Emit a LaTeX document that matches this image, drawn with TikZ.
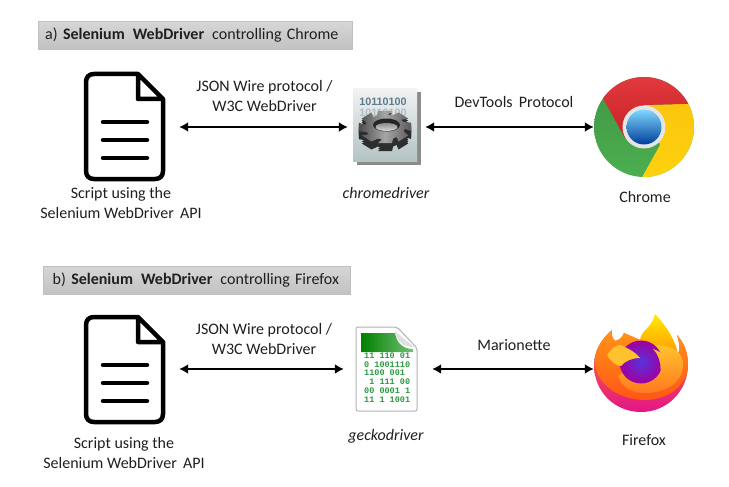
\documentclass[tikz,border=0pt]{standalone}
\usepackage{fontspec}
\setmainfont{Carlito}
\newfontfamily\bitsfont{Liberation Mono}
\newfontfamily\slatefont{Liberation Sans}
\usepackage{tikz}
\usetikzlibrary{arrows.meta}

\definecolor{inkgrey}{HTML}{1F1F1F}
\definecolor{bitgreen}{HTML}{2C9A40}
\definecolor{bitslate}{HTML}{5E7C8C}
\definecolor{chromered}{HTML}{E0262B}
\definecolor{chromegreen}{HTML}{4CAF50}
\definecolor{chromeyellow}{HTML}{FCD20F}
\definecolor{foxorange}{HTML}{FF7A1F}
\definecolor{foxpink}{HTML}{E3148A}
\definecolor{foxyellow}{HTML}{FFC22E}

\tikzset{
    titlebox/.style={draw=black!25, top color=black!16, bottom color=black!24, anchor=north west, align=left, inner sep=0pt, minimum height=28pt, text=inkgrey, font=\fontsize{16}{18}\selectfont},
    iconbox/.style={inner sep=0pt},
    caption/.style={text=inkgrey, align=center, inner sep=0pt, font=\fontsize{16}{20}\selectfont},
    link/.style={{Latex[length=9pt,width=10pt]}-{Latex[length=9pt,width=10pt]}, line width=2.2pt, black},
    flat/.style={x=1pt, y=1pt}
}

% script page, top left corner at #1
\newcommand{\scriptpage}[1]{
    \begin{scope}[shift={(#1)}, line width=4.5pt, line join=round, line cap=round]
        \draw (52,0) -- (8,0) .. controls (3,0) and (0,3) .. (0,8) -- (0,97) .. controls (0,102) and (3,105) .. (8,105) -- (69,105) .. controls (74,105) and (77,102) .. (77,97) -- (77,25) -- (52,0) -- (52,25) -- (77,25);
        \draw (17,48) -- (61,48);
        \draw (17,66) -- (61,66);
        \draw (17,84) -- (61,84);
    \end{scope}
}
% one face of the gear
\newcommand{\gearface}{(-14:27) \foreach \a in {0,45,...,315}{ -- (\a-15:27) -- (\a+15:27) -- (\a+24:20) -- (\a+36:20)} -- cycle}

\begin{document}
\begin{tikzpicture}[x=1pt, y=-1pt]
    \useasboundingbox (0,0) rectangle (729,487);

    % titles
    \node[titlebox, minimum width=314pt, text width=306pt] (titleA) at (38,21) {\hspace*{3pt}a) \textbf{Selenium\, WebDriver}\, controlling Chrome};
    \node[titlebox, minimum width=307pt, text width=302pt] (titleB) at (43,266) {\hspace*{7pt}b) \textbf{Selenium\, WebDriver}\, controlling Firefox};

    % script pages
    \scriptpage{86,74}
    \scriptpage{86,317}

    % chromedriver
    \fill[black!45] (357,92) rectangle (421,165);
    \shade[top color=black!5, bottom color=black!35!cyan!12!white!80!black] (353,89) rectangle (417,161);
    \node[inner sep=0pt, text=bitslate, font=\fontsize{10.8}{11}\slatefont] (bitsA) at (383,102) {\textbf{10110100}};
    \node[inner sep=0pt, text=bitslate!50, font=\fontsize{10.8}{11}\slatefont] (bitsB) at (383,113) {\textbf{10110100}};
    \foreach \d in {135,133,131,129}{
        \begin{scope}[shift={(385,\d)}, flat, yscale=0.62]
            \fill[black!82] \gearface;
        \end{scope}
    }
    \begin{scope}[shift={(385,127)}, flat, yscale=0.62]
        \shade[left color=black!70, right color=black!65, middle color=black!35] \gearface;
    \end{scope}
    \fill[black!85] (386.5,125) ellipse (13.5 and 6.5);
    \shade[top color=black!45, bottom color=black!15] (386.5,127) ellipse (11 and 4);

    % geckodriver
    \draw[black!30, fill=white, line width=1pt, rounded corners=2pt] (356,327) -- (397,327) -- (417,348) -- (417,411) -- (356,411) -- cycle;
    \shade[left color=green!50!black, right color=green!55!black!55!white] (361,333) -- (395,333) .. controls (397,345) and (405,349) .. (413,349) -- (413,352) -- (361,352) -- cycle;
    \fill[black!12] (395,331) .. controls (397,343) and (405,347) .. (414,347) -- cycle;
    \foreach \y/\bits in {356/11 110 01, 364.5/0 1001110, 373/1100 001, 382/ \ 1 111 00, 390.5/00 0001 1, 399.5/11 1 1001}{
        \node[anchor=west, inner sep=0pt, text=bitgreen, font=\fontsize{8.5}{8.5}\bitsfont\bfseries] at (364,\y) {\bits};
    }

    % chrome
    \begin{scope}[shift={(644,127)}, flat]
        \shade[top color=chromegreen!85!black, bottom color=chromegreen] (0,0) circle (50);
        \shade[top color=chromeyellow!85!orange, bottom color=chromeyellow] (27.6:50) arc[start angle=27.6, end angle=-92, radius=50] -- (16,-18) -- (0,22) -- cycle;
        \shade[top color=chromered!90!white, bottom color=chromered!90!black] (145:50) arc[start angle=145, end angle=27.6, radius=50] -- (0,22) -- (-19,-11) -- cycle;
        \fill[black!10] (0,0) circle (21.5);
        \shade[top color=blue!30!cyan!50!white, bottom color=blue!60!cyan!60!black] (0,0) circle (17.5);
    \end{scope}

    % firefox
    \shade[top color=yellow!85!orange, bottom color=orange!90!yellow] (640,340) .. controls (641,330) and (652,328) .. (655,314) .. controls (662,322) and (674,335) .. (678,354) -- (640,360) -- cycle;
    \shade[top color=foxorange, bottom color=foxpink] (612,330) .. controls (600,340) and (594,352) .. (594,365) .. controls (594,392) and (615,412) .. (641,412) .. controls (668,412) and (688,390) .. (688,365) .. controls (688,352) and (684,343) .. (677,335) .. controls (680,345) and (680,350) .. (678,354) -- (640,340) -- (624,333) .. controls (622,338) and (619,340) .. (615,341) .. controls (612,338) and (611,334) .. (612,330) -- cycle;
    \shade[top color=foxorange!80!yellow, bottom color=foxorange!70!red] (612,330) .. controls (600,340) and (595,352) .. (595,362) .. controls (596,385) and (620,400) .. (645,400) .. controls (668,400) and (688,385) .. (688,365) .. controls (688,352) and (684,343) .. (677,335) .. controls (680,345) and (680,350) .. (678,354) -- (640,340) -- (624,333) .. controls (622,338) and (619,340) .. (615,341) .. controls (612,338) and (611,334) .. (612,330) -- cycle;
    \shade[top color=foxyellow, bottom color=foxorange] (655,345) .. controls (672,345) and (684,352) .. (683,366) .. controls (682,385) and (662,393) .. (646,393) .. controls (632,393) and (622,388) .. (618,376) -- (640,360) -- cycle;
    \shade[inner color=blue!65!violet!80!white, outer color=violet!75!magenta] (641,362) circle (21.5);
    \shade[top color=foxyellow, bottom color=foxorange] (653,349) .. controls (664,352) and (670,362) .. (668,372) .. controls (666,382) and (660,388) .. (654,390) .. controls (662,380) and (664,360) .. (653,349) -- cycle;
    \fill[foxyellow] (607,355) .. controls (612,348) and (616,345) .. (620,345) .. controls (628,348) and (635,352) .. (640,358) .. controls (632,358) and (625,361) .. (621,366) .. controls (616,366) and (610,361) .. (607,355) -- cycle;

    % nodes for the connectors
    \node[iconbox, minimum width=110pt, minimum height=105pt] (scriptA) at (124,127) {};
    \node[iconbox, minimum width=77pt, minimum height=80pt] (chromedriver) at (386.5,127) {};
    \node[iconbox, minimum width=100pt, minimum height=100pt] (chrome) at (644,127) {};
    \node[iconbox, minimum width=110pt, minimum height=105pt] (scriptB) at (124,369) {};
    \node[iconbox, minimum width=88pt, minimum height=84pt] (geckodriver) at (388,369) {};
    \node[iconbox, minimum width=100pt, minimum height=100pt] (firefox) at (644,369) {};

    \draw[link] (scriptA.east) -- (chromedriver.west);
    \draw[link] (chromedriver.east) -- (chrome.west);
    \draw[link] (scriptB.east) -- (geckodriver.west);
    \draw[link] (geckodriver.east) -- (firefox.west);

    % labels
    \node[caption] (jsonA) at (264.5,96) {JSON Wire protocol /\\W3C WebDriver};
    \node[caption] (devtools) at (514,102) {DevTools\, Protocol};
    \node[caption] (captionA) at (121,203) {Script using the\\Selenium WebDriver\, API};
    \node[caption] (chromedriverlabel) at (386,193) {\itshape chromedriver};
    \node[caption] (chromelabel) at (645,197) {Chrome};
    \node[caption] (jsonB) at (264,339) {JSON Wire protocol /\\W3C WebDriver};
    \node[caption] (marionette) at (514,345) {Marionette};
    \node[caption] (captionB) at (124,453) {Script using the\\Selenium WebDriver\, API};
    \node[caption] (geckolabel) at (386,436) {\itshape geckodriver};
    \node[caption] (firefoxlabel) at (644,440) {Firefox};
\end{tikzpicture}
\end{document}
